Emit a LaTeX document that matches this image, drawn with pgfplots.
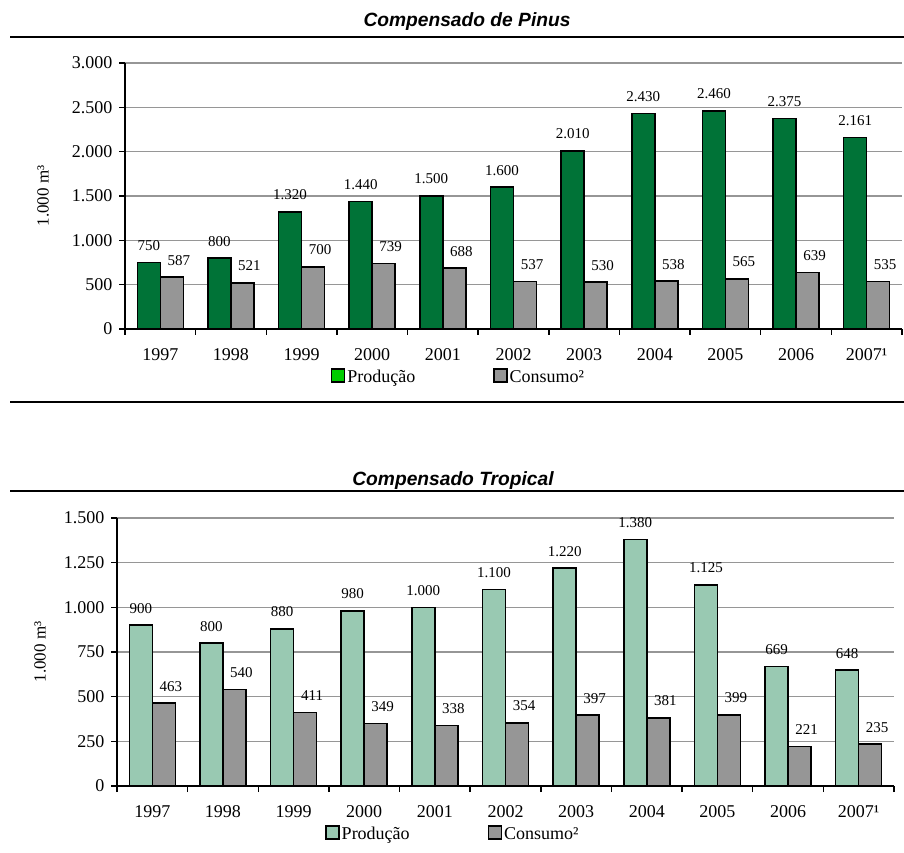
\documentclass[border=0pt]{standalone}
\usepackage{fontspec}
\setmainfont{Liberation Serif}
\newfontfamily\arialfont{Liberation Sans}
\usepackage{pgfplots}
\pgfplotsset{compat=1.18}

\definecolor{dkgreen}{RGB}{0,115,55}
\definecolor{ltgreen}{RGB}{153,201,178}
\definecolor{brgreen}{RGB}{0,204,0}
\definecolor{bargray}{RGB}{150,150,150}
\definecolor{gridgray}{RGB}{150,150,150}

\pgfplotsset{
  panel/.style={
    scale only axis, width=777pt,
    axis x line*=bottom, axis y line*=left,
    axis line style={black, line width=2pt, -},
    xmin=-0.5, xmax=10.5,
    xtick={0,...,10},
    xticklabels={1997,1998,1999,2000,2001,2002,2003,2004,2005,2006,2007¹},
    major x tick style={draw=none},
    minor xtick={-0.5,0.5,...,10.5},
    minor x tick style={black, line width=1.5pt},
    minor tick length=6pt,
    major tick length=6pt,
    tick align=outside,
    ytick style={black, line width=1.5pt},
    ymajorgrids=true,
    major grid style={gridgray, line width=1.5pt},
    /pgf/number format/1000 sep={.},
    /pgf/number format/assume math mode=true,
    tick label style={font=\fontsize{18}{20}\selectfont},
    xticklabel style={yshift=-10pt},
    yticklabel style={xshift=-3pt},
    ylabel style={font=\fontsize{17}{19}\selectfont, anchor=center},
    ybar, bar width=23pt,
    nodes near coords,
    every node near coord/.append style={font=\fontsize{15}{17}\selectfont, anchor=south, inner sep=0pt, yshift=11pt},
    legend columns=2,
    legend image code/.code={\draw[#1, line width=1.3pt] (0pt,-5pt) rectangle (13pt,8pt);},
    legend style={draw=none, fill=none, inner sep=0pt,
      font=\fontsize{18}{20}\selectfont,
      nodes={inner sep=2pt},
      /tikz/every even column/.append style={column sep=76pt}},
  }
}

\begin{document}
\begin{tikzpicture}[x=1pt,y=1pt]
\useasboundingbox (0,0) rectangle (904,852);

% titles and rules
\node[font=\arialfont\bfseries\itshape\fontsize{19.2}{21}\selectfont] at (467,830) {Compensado de Pinus};
\draw[line width=2.5pt] (10,815) -- (904,815);
\draw[line width=2.5pt] (10,450) -- (904,450);
\node[font=\arialfont\bfseries\itshape\fontsize{19.2}{21}\selectfont] at (453,371) {Compensado Tropical};
\draw[line width=2.5pt] (10,361) -- (904,361);

% top panel
\begin{axis}[panel, at={(125pt,523pt)}, anchor=south west,
  height=266pt, ymin=0, ymax=3000, ytick={0,500,...,3000},
  ylabel={1.000 m³},
  ylabel style={at={(axis description cs:-0.1055,0.5)}},
  legend style={at={(axis description cs:0.265,-0.18)}, anchor=west}]
\addplot[fill=dkgreen, draw=black, line width=1.6pt, bar shift=-11.5pt, forget plot]
  coordinates {(0,750) (1,800) (2,1320) (3,1440) (4,1500) (5,1600) (6,2010) (7,2430) (8,2460) (9,2375) (10,2161)};
\addplot[fill=bargray, draw=black, line width=1.6pt, bar shift=11.5pt, forget plot,
  every node near coord/.append style={xshift=7pt}]
  coordinates {(0,587) (1,521) (2,700) (3,739) (4,688) (5,537) (6,530) (7,538) (8,565) (9,639) (10,535)};
\addlegendimage{fill=brgreen, draw=black}
\addlegendentry{Produção}
\addlegendimage{fill=bargray, draw=black}
\addlegendentry{Consumo²}
\end{axis}

% bottom panel
\begin{axis}[panel, at={(117pt,66pt)}, anchor=south west,
  height=268pt, ymin=0, ymax=1500, ytick={0,250,...,1500},
  ylabel={1.000 m³},
  ylabel style={at={(axis description cs:-0.0991,0.5)}},
  legend style={at={(axis description cs:0.268,-0.179)}, anchor=west}]
\addplot[fill=ltgreen, draw=black, line width=1.6pt, bar shift=-11.5pt, forget plot]
  coordinates {(0,900) (1,800) (2,880) (3,980) (4,1000) (5,1100) (6,1220) (7,1380) (8,1125) (9,669) (10,648)};
\addplot[fill=bargray, draw=black, line width=1.6pt, bar shift=11.5pt, forget plot,
  every node near coord/.append style={xshift=7pt}]
  coordinates {(0,463) (1,540) (2,411) (3,349) (4,338) (5,354) (6,397) (7,381) (8,399) (9,221) (10,235)};
\addlegendimage{fill=ltgreen, draw=black}
\addlegendentry{Produção}
\addlegendimage{fill=bargray, draw=black}
\addlegendentry{Consumo²}
\end{axis}
\end{tikzpicture}
\end{document}
